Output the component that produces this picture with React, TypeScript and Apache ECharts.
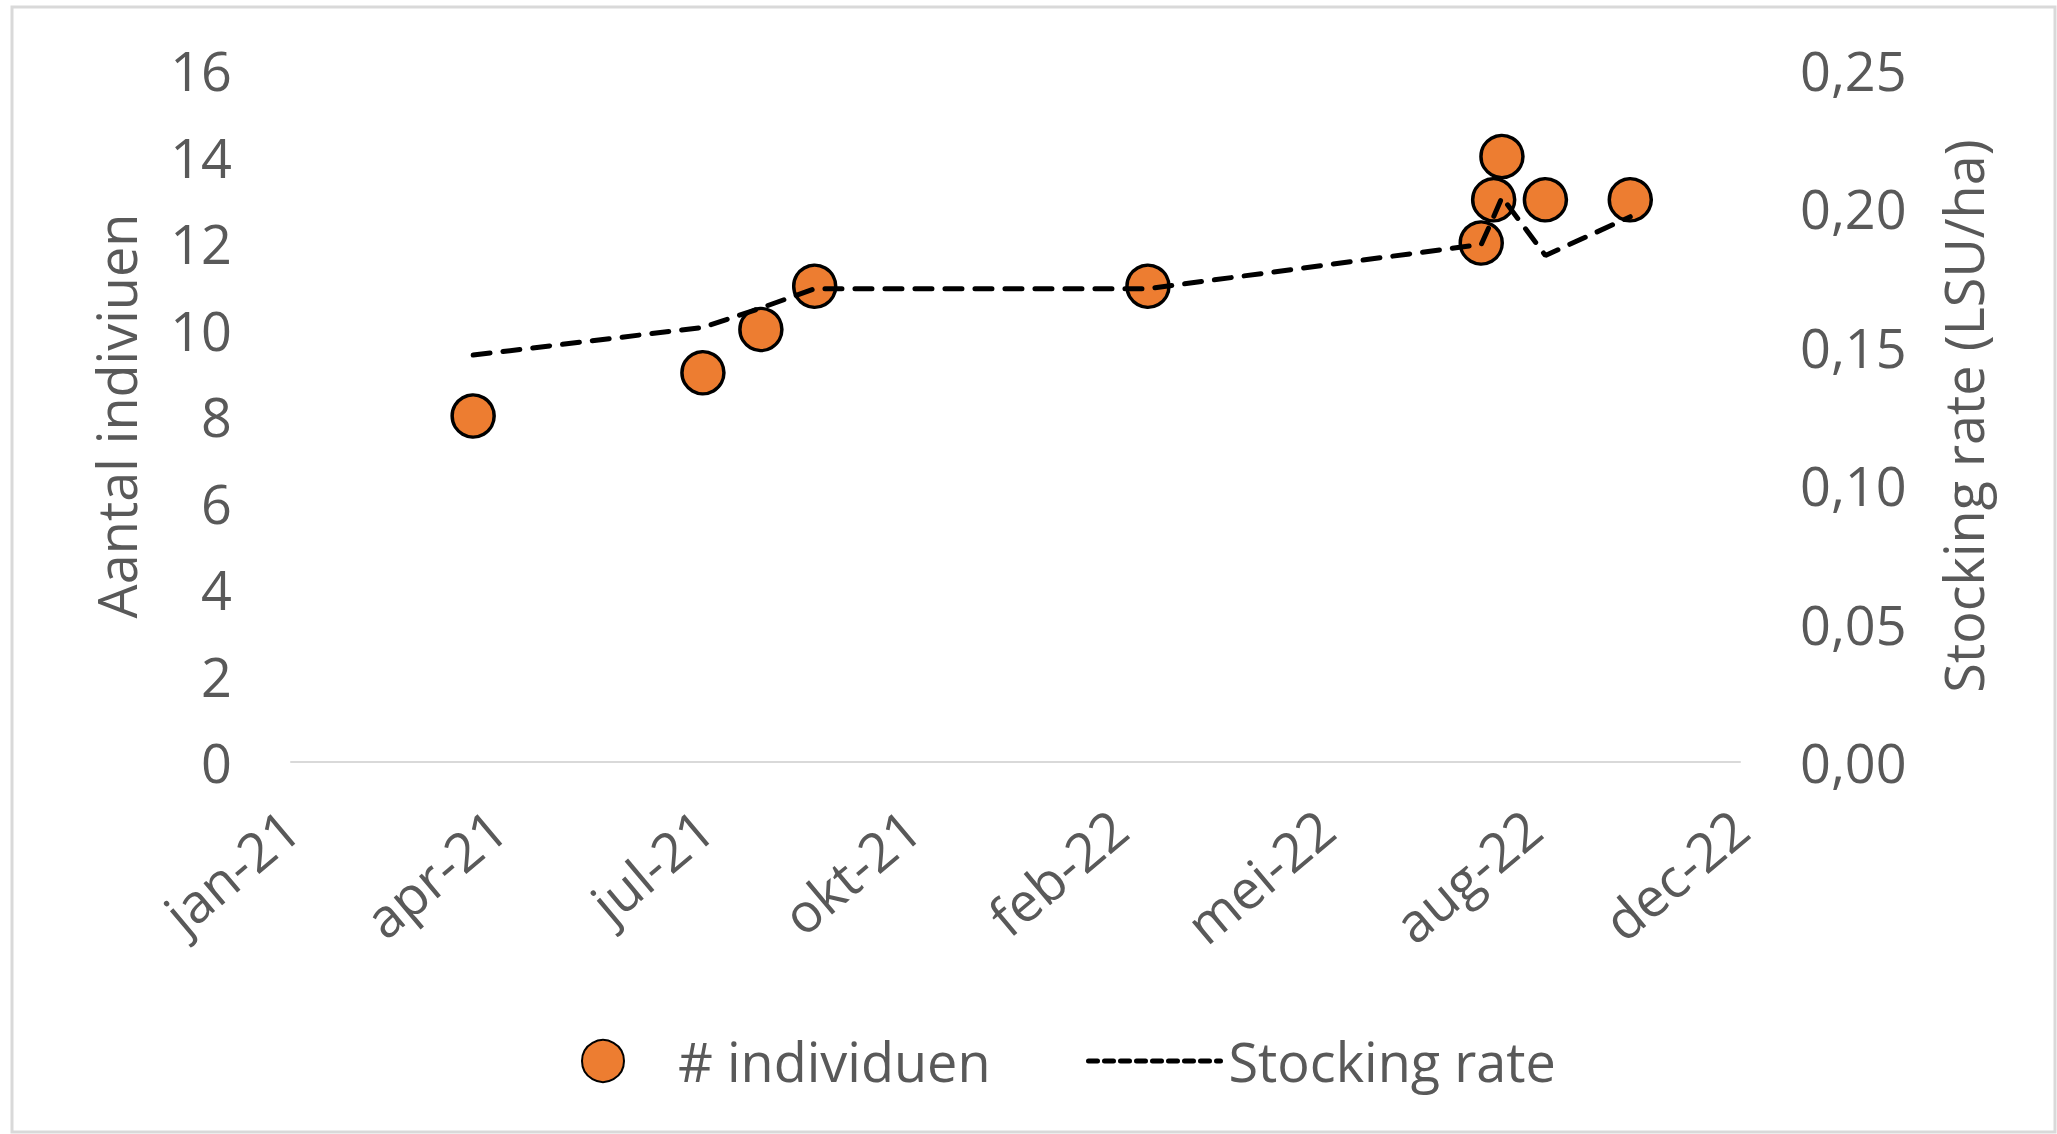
import React, { useEffect, useRef } from "react";
import * as echarts from "echarts";

// ---- data ----
const sampleDates = [
  "2021-03-30",
  "2021-07-19",
  "2021-08-16",
  "2021-09-11",
  "2022-02-19",
  "2022-07-30",
  "2022-08-05",
  "2022-08-09",
  "2022-08-30",
  "2022-10-10",
];
const individuals = [8, 9, 10, 11, 11, 12, 13, 14, 13, 13];
const stockingRate = [0.147, 0.157, 0.164, 0.171, 0.171, 0.187, 0.197, 0.204, 0.183, 0.197];

const monthNames = ["jan", "feb", "mrt", "apr", "mei", "jun", "jul", "aug", "sep", "okt", "nov", "dec"];
const axisStartDate = "2021-01-01";
const axisSpanDays = 700;
const axisStepDays = 100;
const leftTicks = { min: 0, max: 16, step: 2 };
const rightTicks = { min: 0, max: 0.25, step: 0.05 };

const seriesNames = ["# individuen", "Stocking rate"];
const axisTitles = ["Aantal indiviuen", "Stocking rate (LSU/ha)"];

const DAY = 86400000;
const origin = Date.parse(axisStartDate + "T00:00:00Z");
const dayOf = (s: string) => Math.round((Date.parse(s + "T00:00:00Z") - origin) / DAY);
const fmtDate = (v: number) => {
  const d = new Date(origin + v * DAY);
  return monthNames[d.getUTCMonth()] + "-" + String(d.getUTCFullYear()).slice(2);
};

const FONT = "'Open Sans', 'Noto Sans', sans-serif";
const TXT = "#595959";

export default function App() {
  const ref = useRef<HTMLDivElement>(null);
  useEffect(() => {
    if (!ref.current) return;
    const chart = echarts.init(ref.current, undefined, { renderer: "svg" });
    const scatterData = sampleDates.map((d, i) => [dayOf(d), individuals[i]]);
    const lineData = sampleDates.map((d, i) => [dayOf(d), stockingRate[i]]);
    chart.setOption({
      animation: false,
      backgroundColor: "#ffffff",
      textStyle: { fontFamily: FONT },
      grid: { left: 291, right: 317, top: 70, bottom: 372, containLabel: false },
      graphic: [
        {
          type: "rect",
          silent: true,
          z: -10,
          shape: { x: 12, y: 7, width: 2043, height: 1125 },
          style: { fill: "none", stroke: "#d9d9d9", lineWidth: 3 },
        },
      ],
      xAxis: {
        type: "value",
        min: 0,
        max: axisSpanDays,
        interval: axisStepDays,
        axisLine: { show: true, lineStyle: { color: "#d9d9d9", width: 2 } },
        axisTick: { show: false },
        splitLine: { show: false },
        axisLabel: {
          rotate: 40,
          margin: 58,
          fontSize: 54,
          color: TXT,
          fontFamily: FONT,
          formatter: (v: number) => fmtDate(v),
        },
      },
      yAxis: [
        {
          type: "value",
          min: leftTicks.min,
          max: leftTicks.max,
          interval: leftTicks.step,
          axisLine: { show: false },
          axisTick: { show: false },
          splitLine: { show: false },
          axisLabel: { fontSize: 54, color: TXT, margin: 59, fontFamily: FONT },
          name: axisTitles[0],
          nameLocation: "middle",
          nameRotate: 90,
          nameGap: 148,
          nameTextStyle: { fontSize: 54, color: TXT, fontFamily: FONT },
        },
        {
          type: "value",
          position: "right",
          min: rightTicks.min,
          max: rightTicks.max,
          interval: rightTicks.step,
          axisLine: { show: false },
          axisTick: { show: false },
          splitLine: { show: false },
          axisLabel: {
            fontSize: 54,
            color: TXT,
            margin: 60,
            fontFamily: FONT,
            formatter: (v: number) => v.toFixed(2).replace(".", ","),
          },
          name: axisTitles[1],
          nameLocation: "middle",
          nameRotate: 90,
          nameGap: 196,
          nameTextStyle: { fontSize: 54, color: TXT, fontFamily: FONT },
        },
      ],
      legend: [
        {
          data: [seriesNames[0]],
          left: 576,
          top: 1029,
          itemWidth: 140,
          itemHeight: 42,
          itemStyle: { opacity: 1 },
          textStyle: { fontSize: 54, color: TXT, fontFamily: FONT },
        },
        {
          data: [seriesNames[1]],
          left: 1081,
          top: 1029,
          itemWidth: 132,
          itemHeight: 42,
          itemStyle: { opacity: 0 },
          lineStyle: { color: "#000000", width: 5, type: [9, 7], cap: "round", opacity: 1 },
          textStyle: { fontSize: 54, color: TXT, fontFamily: FONT, padding: [0, 0, 0, 3] },
        },
      ],
      series: [
        {
          name: seriesNames[0],
          type: "scatter",
          yAxisIndex: 0,
          symbol: "circle",
          symbolSize: 42,
          itemStyle: { color: "#ED7D31", borderColor: "#000000", borderWidth: 3.5, opacity: 1 },
          data: scatterData,
          z: 2,
        },
        {
          name: seriesNames[1],
          type: "line",
          yAxisIndex: 1,
          symbol: "none",
          lineStyle: { color: "#000000", width: 5, type: [17, 13], cap: "round" },
          itemStyle: { color: "#000000" },
          data: lineData,
          z: 3,
        },
      ],
    });
    return () => chart.dispose();
  }, []);
  return (
    <div
      ref={ref}
      style={{ position: "fixed", left: 0, top: 0, width: 2057, height: 1134, background: "#fff" }}
    />
  );
}
